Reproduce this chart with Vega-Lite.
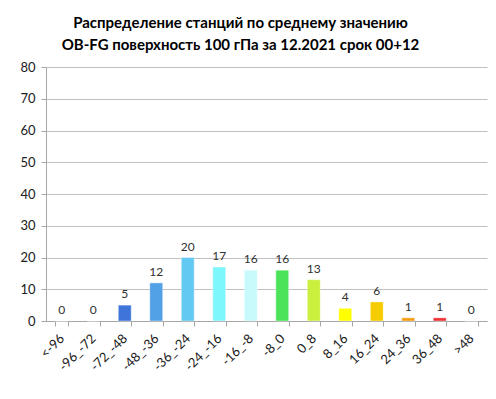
{
  "$schema": "https://vega.github.io/schema/vega-lite/v6.json",
  "width": 441,
  "height": 254,
  "autosize": {"type": "none"},
  "padding": {"left": 46, "top": 67, "right": 9, "bottom": 78},
  "background": "white",
  "title": {
    "text": ["Распределение станций по среднему значению", "OB-FG поверхность  100 гПа за 12.2021 срок  00+12"],
    "font": "Lato",
    "fontSize": 15,
    "fontWeight": "bold",
    "color": "#000000",
    "anchor": "middle",
    "dx": -26,
    "lineHeight": 22,
    "offset": 8
  },
  "data": {
    "values": [
      {"cat": "<-96", "n": 0, "c": "a"},
      {"cat": "-96_-72", "n": 0, "c": "b"},
      {"cat": "-72_-48", "n": 5, "c": "c"},
      {"cat": "-48_-36", "n": 12, "c": "d"},
      {"cat": "-36_-24", "n": 20, "c": "e"},
      {"cat": "-24_-16", "n": 17, "c": "f"},
      {"cat": "-16_-8", "n": 16, "c": "g"},
      {"cat": "-8_0", "n": 16, "c": "h"},
      {"cat": "0_8", "n": 13, "c": "i"},
      {"cat": "8_16", "n": 4, "c": "j"},
      {"cat": "16_24", "n": 6, "c": "k"},
      {"cat": "24_36", "n": 1, "c": "l"},
      {"cat": "36_48", "n": 1, "c": "m"},
      {"cat": ">48", "n": 0, "c": "n"}
    ]
  },
  "encoding": {
    "x": {
      "field": "cat",
      "type": "nominal",
      "sort": null,
      "scale": {"paddingInner": 0.59, "paddingOuter": 0.295},
      "axis": {
        "title": null,
        "labelAngle": -45,
        "labelAlign": "right",
        "labelBaseline": "middle",
        "labelFont": "Lato",
        "labelFontSize": 13,
        "labelColor": "#202020",
        "labelPadding": 10,
        "tickBand": "extent",
        "tickSize": 5,
        "tickColor": "#a6a6a6",
        "domainColor": "#a6a6a6",
        "grid": false
      }
    },
    "y": {
      "field": "n",
      "type": "quantitative",
      "scale": {"domain": [0, 80]},
      "axis": {
        "title": null,
        "values": [0, 10, 20, 30, 40, 50, 60, 70, 80],
        "labelFont": "Lato",
        "labelFontSize": 13,
        "labelColor": "#202020",
        "labelPadding": 6,
        "tickSize": 5,
        "tickColor": "#a6a6a6",
        "domainColor": "#a6a6a6",
        "gridColor": "#c0c0c0",
        "gridWidth": 1.2
      }
    }
  },
  "layer": [
    {
      "mark": {"type": "bar", "stroke": "#ffffff", "strokeOpacity": 0.4, "strokeWidth": 1},
      "encoding": {
        "color": {
          "field": "c",
          "type": "nominal",
          "legend": null,
          "scale": {
            "domain": ["a","b","c","d","e","f","g","h","i","j","k","l","m","n"],
            "range": ["#3f74db","#3f74db","#3f74db","#52a0e6","#62c9f2","#7df6fc","#c8fafc","#4ce35a","#c8f03c","#ffff00","#f5cc00","#f59c10","#f03030","#f03030"]
          }
        }
      }
    },
    {
      "mark": {"type": "text", "dy": -11, "font": "Lato", "fontSize": 12, "color": "#303030"},
      "encoding": {"text": {"field": "n", "type": "quantitative"}}
    }
  ],
  "config": {"view": {"stroke": null}}
}
